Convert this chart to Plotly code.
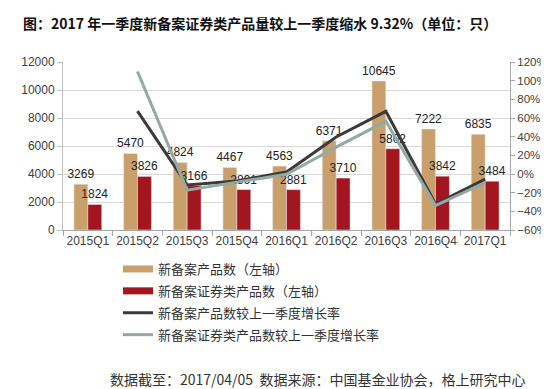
import plotly.graph_objects as go

quarters = ["2015Q1", "2015Q2", "2015Q3", "2015Q4", "2016Q1", "2016Q2", "2016Q3", "2016Q4", "2017Q1"]
new_products = [3269, 5470, 4824, 4467, 4563, 6371, 10645, 7222, 6835]
new_securities = [1824, 3826, 3166, 2891, 2881, 3710, 5802, 3842, 3484]
growth_products = [None, 67.3, -11.8, -7.4, 2.1, 39.6, 67.1, -32.2, -5.4]
growth_securities = [None, 109.8, -17.3, -8.7, -0.3, 28.8, 56.4, -33.8, -9.3]

names = ["新备案产品数（左轴）", "新备案证券类产品数（左轴）",
         "新备案产品数较上一季度增长率", "新备案证券类产品数较上一季度增长率"]

TAN = "#C9A06C"
RED = "#A3151F"
DARK = "#3A3A3A"
GRAYL = "#92AAA3"
W, H = 549, 389
L, R, T, B = 55, 47, 54, 167
CJK = "Noto Sans CJK SC"
LAT = "Liberation Sans, Arial, sans-serif"

fig = go.Figure()
fig.add_trace(go.Bar(x=quarters, y=new_products, marker_color=TAN, name=names[0],
                     text=[str(v) for v in new_products], textposition="outside",
                     constraintext="none", cliponaxis=False,
                     textfont=dict(size=12, color="#222", family=LAT), showlegend=False))
fig.add_trace(go.Bar(x=quarters, y=new_securities, marker_color=RED, name=names[1],
                     text=[str(v) for v in new_securities], textposition="outside",
                     constraintext="none", cliponaxis=False,
                     textfont=dict(size=12, color="#222", family=LAT), showlegend=False))
fig.add_trace(go.Scatter(x=quarters, y=growth_products, mode="lines", yaxis="y2",
                         line=dict(color=DARK, width=3), name=names[2], showlegend=False))
fig.add_trace(go.Scatter(x=quarters, y=growth_securities, mode="lines", yaxis="y2",
                         line=dict(color=GRAYL, width=3), name=names[3], showlegend=False))

# legend entries
for i, (nm, col, wd) in enumerate([(names[0], TAN, 7), (names[1], RED, 7),
                                   (names[2], DARK, 3), (names[3], GRAYL, 3)]):
    fig.add_trace(go.Scatter(x=[None], y=[None], mode="lines", name=nm,
                             line=dict(color=col, width=wd), legendgroup="g%d" % i,
                             legendrank=i + 1, showlegend=True))

fig.update_layout(
    width=W, height=H,
    margin=dict(l=L, r=R, t=T, b=B, autoexpand=False),
    paper_bgcolor="white", plot_bgcolor="white",
    barmode="group", bargap=0.44, bargroupgap=0,
    font=dict(family=LAT, size=12, color="#404040"),
    title=dict(text="<b>图：2017 年一季度新备案证券类产品量较上一季度缩水 9.32%（单位：只）</b>",
               x=15 / W, xanchor="left", xref="container",
               y=1 - 16 / H, yanchor="middle", yref="container",
               font=dict(family=CJK, size=14, color="#111")),
    xaxis=dict(type="category", tickson="boundaries", ticks="outside", ticklen=5,
               tickcolor="#a6a6a6", showline=True, linecolor="#a6a6a6", tickangle=0,
               tickfont=dict(size=12, color="#404040"), showgrid=False),
    yaxis=dict(range=[0, 12000], dtick=2000, tickformat="d", showgrid=True,
               gridcolor="#d9d9d9", showline=True, linecolor="#bfbfbf", ticks="outside",
               ticklen=5, tickcolor="#bfbfbf", zeroline=False,
               tickfont=dict(size=12, color="#404040")),
    yaxis2=dict(range=[-60, 120], dtick=20, ticksuffix="%", overlaying="y", side="right",
                showgrid=False, showline=True, linecolor="#a6a6a6", ticks="outside",
                ticklen=4, tickcolor="#a6a6a6", zeroline=False,
                tickfont=dict(size=11.5, color="#404040")),
    legend=dict(xref="container", yref="container", x=110 / W, xanchor="left",
                y=1 - 246 / H, yanchor="top", orientation="v",
                font=dict(family=CJK, size=13, color="#333"), tracegroupgap=2,
                itemwidth=30, bgcolor="rgba(0,0,0,0)"),
)

fig.add_annotation(text="数据截至：2017/04/05  数据来源：中国基金业协会，格上研究中心",
                   xref="paper", yref="paper", x=(100 - L) / (W - L - R), xanchor="left",
                   y=-(371 - 222) / 168, yanchor="middle", showarrow=False,
                   font=dict(family=CJK, size=14, color="#333"))

fig.write_html("out.html")
